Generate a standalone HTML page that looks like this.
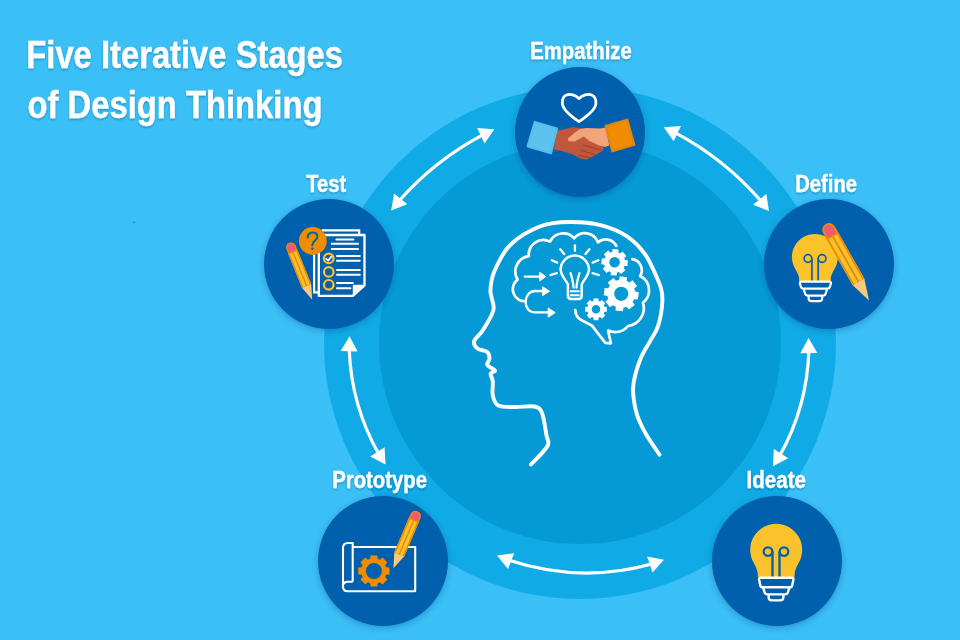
<!DOCTYPE html>
<html><head><meta charset="utf-8">
<style>
html,body{margin:0;padding:0;width:960px;height:640px;overflow:hidden;background:#3AC0F7;}
svg{display:block;font-family:"Liberation Sans",sans-serif;}
</style></head>
<body>
<svg width="960" height="640" viewBox="0 0 960 640">
<defs>
<filter id="ts" x="-20%" y="-30%" width="140%" height="160%">
<feDropShadow dx="0" dy="1.5" stdDeviation="1.2" flood-color="#000" flood-opacity="0.25"/>
</filter>
<filter id="cs" x="-20%" y="-20%" width="140%" height="140%">
<feDropShadow dx="0" dy="2" stdDeviation="3" flood-color="#003060" flood-opacity="0.3"/>
</filter>
</defs>
<rect width="960" height="640" fill="#3AC0F7"/>
<circle cx="580" cy="343" r="256" fill="#10AAE7"/>
<circle cx="580" cy="343" r="201" fill="#059AD6"/>
<path d="M399.40 200.51 A300 300 0 0 1 482.67 134.91" fill="none" stroke="#fff" stroke-width="3.2"/><path d="M391.20 210.60 L394.07 193.60 L407.26 204.33Z" fill="#fff"/><path d="M494.40 129.30 L484.54 143.44 L477.20 128.11Z" fill="#fff"/>
<path d="M675.52 132.82 A300 300 0 0 1 760.91 200.92" fill="none" stroke="#fff" stroke-width="3.2"/><path d="M663.80 127.20 L681.00 126.02 L673.65 141.35Z" fill="#fff"/><path d="M769.00 211.10 L753.01 204.64 L766.32 194.07Z" fill="#fff"/>
<path d="M808.82 351.10 A229 229 0 0 1 779.96 455.32" fill="none" stroke="#fff" stroke-width="3.2"/><path d="M808.50 338.10 L817.37 352.89 L800.37 353.30Z" fill="#fff"/><path d="M773.00 466.30 L773.85 449.08 L788.21 458.18Z" fill="#fff"/>
<path d="M651.67 563.92 A245 245 0 0 1 509.21 560.34" fill="none" stroke="#fff" stroke-width="3.2"/><path d="M664.00 559.80 L652.47 572.62 L647.08 556.49Z" fill="#fff"/><path d="M497.10 555.60 L514.17 553.15 L507.97 568.98Z" fill="#fff"/>
<path d="M378.50 453.55 A229 229 0 0 1 349.22 349.20" fill="none" stroke="#fff" stroke-width="3.2"/><path d="M385.50 464.50 L370.26 456.44 L384.58 447.28Z" fill="#fff"/><path d="M349.50 336.20 L357.67 351.38 L340.68 351.01Z" fill="#fff"/>
<path d="M531.0 464.5 C533.8 461.4 544.9 450.9 547.5 446.0 C550.1 441.1 547.3 440.5 546.4 435.0 C545.5 429.5 544.0 417.8 542.0 413.0 C540.0 408.2 538.8 407.5 534.3 406.5 C529.8 405.5 520.7 407.2 514.7 407.0 C508.7 406.8 502.0 407.3 498.3 405.4 C494.6 403.5 493.7 399.6 492.8 395.6 C491.9 391.6 493.2 385.0 492.8 381.4 C492.4 377.8 490.2 375.5 490.6 373.7 C491.0 371.9 495.6 371.9 495.0 370.5 C494.4 369.1 488.2 367.0 487.3 365.0 C486.4 363.0 489.5 360.6 489.5 358.4 C489.5 356.2 489.3 353.5 487.3 351.9 C485.3 350.3 479.7 350.4 477.5 348.6 C475.3 346.8 473.3 344.0 474.2 340.9 C475.1 337.8 479.8 335.2 483.0 330.0 C486.2 324.8 492.3 316.0 493.5 309.5 C494.7 303.0 490.2 297.4 490.4 291.0 C490.6 284.6 491.1 278.8 494.5 271.0 C497.9 263.2 502.9 252.0 510.7 244.5 C518.5 237.0 531.1 229.8 541.0 226.0 C550.9 222.2 560.1 222.1 570.0 222.0 C579.9 221.9 591.1 222.8 600.6 225.2 C610.1 227.6 619.5 231.5 627.0 236.4 C634.5 241.3 640.2 247.6 645.3 254.7 C650.4 261.8 654.7 272.7 657.5 279.0 C660.3 285.3 661.2 287.8 661.9 292.5 C662.6 297.2 662.6 301.7 661.9 307.5 C661.2 313.3 659.5 321.9 657.5 327.5 C655.5 333.1 652.9 335.9 650.0 341.3 C647.1 346.7 642.8 352.4 640.0 360.0 C637.2 367.6 633.8 378.0 633.2 386.8 C632.6 395.6 634.5 405.4 636.5 413.0 C638.5 420.6 641.4 425.8 645.2 432.7 C649.0 439.6 657.1 451.0 659.5 454.6" fill="none" stroke="#fff" stroke-width="3.9" stroke-linecap="round" stroke-linejoin="round"/>
<path d="M525.50 301.20 A11.97 11.97 0 0 1 517.60 279.70 A15.67 15.67 0 0 1 528.75 256.10 A14.78 14.78 0 0 1 550.00 241.60 A14.73 14.73 0 0 1 574.20 238.25 A13.84 13.84 0 0 1 597.90 242.40 A11.92 11.92 0 0 1 616.25 245.75" fill="none" stroke="#fff" stroke-width="2.7" stroke-linecap="round" stroke-linejoin="round"/>
<path d="M632.30 259.10 A11.16 11.16 0 0 1 640.10 276.00 A15.76 15.76 0 0 1 642.90 302.70 A17.90 17.90 0 0 1 628.10 326.00 A16.79 16.79 0 0 1 608.10 330.60 L610.90 343.30 L605.30 342.80 L592.20 325.90 C588 322.5 582.5 322 578.5 318 C576 315.5 575.3 312.5 575.3 310" fill="none" stroke="#fff" stroke-width="2.7" stroke-linecap="round" stroke-linejoin="round"/>
<path d="M524.7 276.6 H542" stroke="#fff" stroke-width="2.3" stroke-linecap="round"/>
<path d="M545.8 276.6 L539.7 272.3 V281 Z" fill="#fff" stroke="#fff" stroke-width="1" stroke-linejoin="round"/>
<path d="M546 291 H535 C523 291 522 312.4 535 312.4 H551" fill="none" stroke="#fff" stroke-width="2.3" stroke-linecap="round"/>
<path d="M549.6 291.2 L542.5 286.8 V295.6 Z" fill="#fff" stroke="#fff" stroke-width="1" stroke-linejoin="round"/>
<path d="M555.2 312.6 L548.2 308 V317.2 Z" fill="#fff" stroke="#fff" stroke-width="1" stroke-linejoin="round"/>
<path d="M567.9 287 V284.4 C566 280 561.5 276.5 560.6 269.8 A14.2 14.2 0 0 1 589 269.8 C588.1 276.5 583.6 280 581.7 284.4 V287 V295.8 Q581.7 299 578.5 299 H571.1 Q567.9 299 567.9 295.8 Z" fill="none" stroke="#fff" stroke-width="2.5" stroke-linejoin="round"/>
<path d="M570 291.3 H579.6 M570 295.2 H579.6" stroke="#fff" stroke-width="1.9"/>
<path d="M570.6 273.2 C572 278 573.2 282 573.5 287.5 M579.4 273.2 C578 278 576.8 282 576.5 287.5" fill="none" stroke="#fff" stroke-width="2.3" stroke-linecap="round"/>
<line x1="574.9" y1="245.3" x2="574.9" y2="250.8" stroke="#fff" stroke-width="2.3" stroke-linecap="round"/>
<line x1="560.3" y1="249.2" x2="564.2" y2="254" stroke="#fff" stroke-width="2.3" stroke-linecap="round"/>
<line x1="589.4" y1="249.2" x2="585.5" y2="254" stroke="#fff" stroke-width="2.3" stroke-linecap="round"/>
<line x1="551.8" y1="260.2" x2="557.2" y2="262.6" stroke="#fff" stroke-width="2.3" stroke-linecap="round"/>
<line x1="592.6" y1="262.6" x2="598.4" y2="260.2" stroke="#fff" stroke-width="2.3" stroke-linecap="round"/>
<line x1="550.5" y1="275" x2="556.8" y2="273.2" stroke="#fff" stroke-width="2.3" stroke-linecap="round"/>
<line x1="592.6" y1="273.2" x2="598.8" y2="275" stroke="#fff" stroke-width="2.3" stroke-linecap="round"/>
<path d="M612.22 251.97 L612.62 249.05 L618.41 249.45 L618.40 252.40 A10.60 10.60 0 0 1 620.22 253.31 L622.57 251.53 L626.38 255.91 L624.28 257.99 A10.60 10.60 0 0 1 624.93 259.92 L627.85 260.32 L627.45 266.11 L624.50 266.10 A10.60 10.60 0 0 1 623.59 267.92 L625.37 270.27 L620.99 274.08 L618.91 271.98 A10.60 10.60 0 0 1 616.98 272.63 L616.58 275.55 L610.79 275.15 L610.80 272.20 A10.60 10.60 0 0 1 608.98 271.29 L606.63 273.07 L602.82 268.69 L604.92 266.61 A10.60 10.60 0 0 1 604.27 264.68 L601.35 264.28 L601.75 258.49 L604.70 258.50 A10.60 10.60 0 0 1 605.61 256.68 L603.83 254.33 L608.21 250.52 L610.29 252.62 A10.60 10.60 0 0 1 612.22 251.97 Z M609.30 262.30 a5.30 5.30 0 1 0 10.60 0 a5.30 5.30 0 1 0 -10.60 0Z" fill="#fff" fill-rule="evenodd"/>
<path d="M619.06 279.97 L619.72 276.27 L626.98 277.16 L626.72 280.91 A14.00 14.00 0 0 1 629.48 282.47 L632.56 280.32 L637.07 286.08 L634.23 288.56 A14.00 14.00 0 0 1 635.08 291.61 L638.78 292.27 L637.89 299.53 L634.14 299.27 A14.00 14.00 0 0 1 632.58 302.03 L634.73 305.11 L628.97 309.62 L626.49 306.78 A14.00 14.00 0 0 1 623.44 307.63 L622.78 311.33 L615.52 310.44 L615.78 306.69 A14.00 14.00 0 0 1 613.02 305.13 L609.94 307.28 L605.43 301.52 L608.27 299.04 A14.00 14.00 0 0 1 607.42 295.99 L603.72 295.33 L604.61 288.07 L608.36 288.33 A14.00 14.00 0 0 1 609.92 285.57 L607.77 282.49 L613.53 277.98 L616.01 280.82 A14.00 14.00 0 0 1 619.06 279.97 Z M614.15 293.80 a7.10 7.10 0 1 0 14.20 0 a7.10 7.10 0 1 0 -14.20 0Z" fill="#fff" fill-rule="evenodd"/>
<path d="M593.43 300.88 L593.60 298.46 L598.40 298.46 L598.57 300.88 A8.80 8.80 0 0 1 600.13 301.53 L601.96 299.94 L605.36 303.34 L603.77 305.17 A8.80 8.80 0 0 1 604.42 306.73 L606.84 306.90 L606.84 311.70 L604.42 311.87 A8.80 8.80 0 0 1 603.77 313.43 L605.36 315.26 L601.96 318.66 L600.13 317.07 A8.80 8.80 0 0 1 598.57 317.72 L598.40 320.14 L593.60 320.14 L593.43 317.72 A8.80 8.80 0 0 1 591.87 317.07 L590.04 318.66 L586.64 315.26 L588.23 313.43 A8.80 8.80 0 0 1 587.58 311.87 L585.16 311.70 L585.16 306.90 L587.58 306.73 A8.80 8.80 0 0 1 588.23 305.17 L586.64 303.34 L590.04 299.94 L591.87 301.53 A8.80 8.80 0 0 1 593.43 300.88 Z M591.70 309.30 a4.30 4.30 0 1 0 8.60 0 a4.30 4.30 0 1 0 -8.60 0Z" fill="#fff" fill-rule="evenodd"/>
<ellipse cx="134.2" cy="222.3" rx="1.1" ry="0.8" fill="#1F6FA8" opacity="0.75"/>
<g fill="#fff" stroke="#fff" stroke-width="0.4" font-weight="bold" filter="url(#ts)"><text x="26.30" y="68.00" font-size="38" textLength="316.75" lengthAdjust="spacingAndGlyphs">Five Iterative Stages</text><text x="27.50" y="118.00" font-size="38" textLength="295.00" lengthAdjust="spacingAndGlyphs">of Design Thinking</text></g>
<circle cx="580" cy="132" r="65" fill="#0461AD" filter="url(#cs)"/>
<circle cx="829" cy="264" r="65" fill="#0461AD" filter="url(#cs)"/>
<circle cx="777" cy="561" r="65" fill="#0461AD" filter="url(#cs)"/>
<circle cx="383" cy="561" r="65" fill="#0461AD" filter="url(#cs)"/>
<circle cx="329" cy="264" r="65" fill="#0461AD" filter="url(#cs)"/>
<g fill="#fff" stroke="#fff" stroke-width="0.35" font-weight="bold" filter="url(#ts)"><text x="530.25" y="58.75" font-size="23" textLength="101.50" lengthAdjust="spacingAndGlyphs">Empathize</text><text x="306.25" y="191.90" font-size="23" textLength="40.00" lengthAdjust="spacingAndGlyphs">Test</text><text x="795.25" y="191.80" font-size="23" textLength="61.75" lengthAdjust="spacingAndGlyphs">Define</text><text x="746.50" y="487.50" font-size="23" textLength="59.50" lengthAdjust="spacingAndGlyphs">Ideate</text><text x="332.25" y="487.50" font-size="23" textLength="94.75" lengthAdjust="spacingAndGlyphs">Prototype</text></g>
<path d="M579 98.6 C575.5 94.6 570 93.6 566.4 95 C563 96.4 562.1 100.2 562.4 103.6 C562.9 110 571.2 116.4 579 121.6 C586.8 116.4 595.4 110 595.9 103.6 C596.1 100.2 595.2 96.4 591.7 95 C588.1 93.6 582.5 94.6 579 98.6Z" fill="none" stroke="#fff" stroke-width="2.8" stroke-linejoin="round"/>
<path d="M557 130.6 L564.1 129.2 L573.2 127 L579.6 128.1 L583 130 L603.5 147.5 L603.2 150.5 L593.7 155.9 L586.6 159.4 L581 158.7 L571.1 153.8 L561.3 151 L553.9 149.6 Z" fill="#C0573A"/>
<path d="M580.3 128.8 L586.6 128.1 L599.3 128.5 L606 127.7 L609.2 145.4 L604.9 147.1 L599.3 145.4 L589.4 141.1 L583.8 136.5 L574.6 141.5 L569.5 141.3 C567.5 140.5 567.5 138.5 569 137.5 L574.6 132.7 Z" fill="#F4A47B"/>
<path d="M583.1 145 L601.4 150.3 M580.3 150.3 L595.1 154.5 M578.2 155.2 L590.8 158" stroke="#8E3B28" stroke-width="0.8"/>
<path d="M534.8 122 L557 128.6 L551 153.2 L527.6 146.4 Z" fill="#5BC3EE" stroke="#58BDE9" stroke-width="2.2" stroke-linejoin="round"/>
<path d="M605.6 126.2 L627.2 119.8 L634.2 144.5 L612.4 151.2 Z" fill="#EF8C00" stroke="#E5860A" stroke-width="2.4" stroke-linejoin="round"/>
<path d="M799.10 281.00 V279.00 C799.10 275.50 797.51 272.78 794.98 268.40 A23 23 0 1 1 834.82 268.40 C832.29 272.78 830.70 275.50 830.70 279.00 V281.00 Z" fill="#FCC22B"/>
<g fill="none" stroke="#0461AD" stroke-width="1.7"><circle cx="808.0" cy="258.5" r="3.9"/><circle cx="822.1" cy="258.5" r="3.9"/><path d="M811.9 258.5 V281 M818.2 258.5 V281"/></g>
<path d="M801.5 281.6 H829.3 Q831.3 281.6 830.9 283.6 L830 286.4 Q829.5 288.6 827.3 288.6 H803.5 Q801.3 288.6 800.8 286.4 L799.9 283.6 Q799.5 281.6 801.5 281.6Z M803.5 288.6 L805 293.2 Q805.6 295.6 808 295.6 H822.8 Q825.2 295.6 825.8 293.2 L827.3 288.6 M808.6 295.6 V298.2 Q808.6 301.2 811.6 301.2 H819.2 Q822.2 301.2 822.2 298.2 V295.6" fill="none" stroke="#fff" stroke-width="2.2" stroke-linejoin="round"/>
<g transform="translate(825.67 223.91) rotate(-29.50)"><path d="M-6.75 66.50 L6.75 66.50 L0 88.00Z" fill="#FCC87E"/><rect x="-6.75" y="14.00" width="13.50" height="52.50" fill="#FCC22B"/><path d="M-5.80 66.50 V14.00 M5.80 66.50 V14.00" stroke="#E98A0B" stroke-width="1.90"/><line x1="0" y1="14.00" x2="0" y2="66.50" stroke="#E98A0B" stroke-width="1.90"/><path d="M-5.80 14.00 V6.75 A5.80 5.80 0 0 1 5.80 6.75 V14.00Z" fill="#EF5B73" stroke="#E98A0B" stroke-width="1.90"/></g>
<path d="M757.80 577.00 V575.00 C757.80 571.50 756.54 567.75 753.68 562.80 A26 26 0 1 1 798.72 562.80 C795.86 567.75 794.60 571.50 794.60 575.00 V577.00 Z" fill="#FCC22B"/>
<g fill="none" stroke="#0461AD" stroke-width="2.3"><circle cx="768.0" cy="551.6" r="4.3"/><circle cx="784.0" cy="551.6" r="4.3"/><path d="M772.5 551.6 V577 M779.5 551.6 V577"/></g>
<path d="M760.3 577.8 H792.2 Q793.6 577.8 793.4 579.5 L792.3 585 Q792 587.3 789.7 587.3 H762.8 Q760.5 587.3 760.2 585 L759.1 579.5 Q758.9 577.8 760.3 577.8Z M763 587.3 L764.5 592 Q765.2 594.4 767.5 594.4 H785 Q787.3 594.4 788 592 L789.5 587.3 M768.6 594.4 V597 Q768.6 600.4 772 600.4 H780 Q783.4 600.4 783.4 597 V594.4" fill="none" stroke="#fff" stroke-width="2.4" stroke-linejoin="round"/>
<path d="M352.7 581.7 V543 H348 Q343 543 343 548 V586.5 Q343 591.3 348 591.3 H415.2 V547 H352.7 M352.7 581.7 H348 Q343 581.7 343 586.5" fill="none" stroke="#fff" stroke-width="2.1" stroke-linejoin="round"/>
<path d="M370.16 558.76 L370.44 555.38 L377.36 555.38 L377.64 558.76 A12.80 12.80 0 0 1 379.91 559.70 L382.50 557.51 L387.39 562.40 L385.20 564.99 A12.80 12.80 0 0 1 386.14 567.26 L389.52 567.54 L389.52 574.46 L386.14 574.74 A12.80 12.80 0 0 1 385.20 577.01 L387.39 579.60 L382.50 584.49 L379.91 582.30 A12.80 12.80 0 0 1 377.64 583.24 L377.36 586.62 L370.44 586.62 L370.16 583.24 A12.80 12.80 0 0 1 367.89 582.30 L365.30 584.49 L360.41 579.60 L362.60 577.01 A12.80 12.80 0 0 1 361.66 574.74 L358.28 574.46 L358.28 567.54 L361.66 567.26 A12.80 12.80 0 0 1 362.60 564.99 L360.41 562.40 L365.30 557.51 L367.89 559.70 A12.80 12.80 0 0 1 370.16 558.76 Z M365.90 571.00 a8.00 8.00 0 1 0 16.00 0 a8.00 8.00 0 1 0 -16.00 0Z" fill="#EF8C00" fill-rule="evenodd"/>
<g transform="translate(417.63 511.13) rotate(23.00)"><path d="M-5.40 46.85 L5.40 46.85 L0 62.00Z" fill="#FCC87E"/><rect x="-5.40" y="9.86" width="10.80" height="36.99" fill="#FCC22B"/><path d="M-4.64 46.85 V9.86 M4.64 46.85 V9.86" stroke="#E98A0B" stroke-width="1.52"/><line x1="0" y1="9.86" x2="0" y2="46.85" stroke="#E98A0B" stroke-width="1.52"/><path d="M-4.64 9.86 V5.40 A4.64 4.64 0 0 1 4.64 5.40 V9.86Z" fill="#EF5B73" stroke="#E98A0B" stroke-width="1.52"/></g>
<path d="M321.7 230.3 H359.2 V234.5 M314.1 254.3 V292.4 H318.8" fill="none" stroke="#fff" stroke-width="2.2"/>
<path d="M318.8 235 H364.5 V285.4 L352.8 295.9 H318.8 Z" fill="#0461AD" stroke="#fff" stroke-width="2.3" stroke-linejoin="round"/>
<path d="M353.4 285.4 H364.5 L353.4 295.9 Z" fill="#fff" stroke="#fff" stroke-width="1.2" stroke-linejoin="round"/>
<line x1="336.4" y1="239.6" x2="353.4" y2="239.6" stroke="#fff" stroke-width="2" stroke-linecap="round"/>
<line x1="331.7" y1="243.75" x2="358" y2="243.75" stroke="#fff" stroke-width="2" stroke-linecap="round"/>
<line x1="331.7" y1="249" x2="358" y2="249" stroke="#fff" stroke-width="2" stroke-linecap="round"/>
<line x1="337" y1="256" x2="359.8" y2="256" stroke="#fff" stroke-width="2" stroke-linecap="round"/>
<line x1="337" y1="260.7" x2="359.8" y2="260.7" stroke="#fff" stroke-width="2" stroke-linecap="round"/>
<line x1="337" y1="270.1" x2="359.8" y2="270.1" stroke="#fff" stroke-width="2" stroke-linecap="round"/>
<line x1="337" y1="274.8" x2="359.8" y2="274.8" stroke="#fff" stroke-width="2" stroke-linecap="round"/>
<line x1="337" y1="283" x2="352.8" y2="283" stroke="#fff" stroke-width="2" stroke-linecap="round"/>
<line x1="337" y1="288.3" x2="350.4" y2="288.3" stroke="#fff" stroke-width="2" stroke-linecap="round"/>
<circle cx="328.75" cy="258.4" r="4.8" fill="none" stroke="#FCC22B" stroke-width="2.2"/>
<circle cx="328.75" cy="271.9" r="4.8" fill="none" stroke="#FCC22B" stroke-width="2.2"/>
<circle cx="328.75" cy="284.8" r="4.8" fill="none" stroke="#FCC22B" stroke-width="2.2"/>
<path d="M326.3 258.8 L328.2 260.6 L331.3 256.6" fill="none" stroke="#fff" stroke-width="1.8" stroke-linecap="round" stroke-linejoin="round"/>
<circle cx="312.8" cy="241" r="13.9" fill="#EF8C00"/>
<path d="M307.7 237.6 C307.3 231 317.6 230.6 317.4 236.8 C317.2 240.6 312.4 240.6 312.3 245.2" fill="none" stroke="#0461AD" stroke-width="2" stroke-linecap="round"/><circle cx="312.3" cy="248.7" r="1.25" fill="#0461AD"/>
<g transform="translate(289.16 242.78) rotate(-22.00)"><path d="M-5.00 46.47 L5.00 46.47 L0 61.50Z" fill="#FCC87E"/><rect x="-5.00" y="9.78" width="10.00" height="36.69" fill="#FCC22B"/><path d="M-4.30 46.47 V9.78 M4.30 46.47 V9.78" stroke="#E98A0B" stroke-width="1.41"/><line x1="0" y1="9.78" x2="0" y2="46.47" stroke="#E98A0B" stroke-width="1.41"/><path d="M-4.30 9.78 V5.00 A4.30 4.30 0 0 1 4.30 5.00 V9.78Z" fill="#EF5B73" stroke="#E98A0B" stroke-width="1.41"/></g>
</svg>
</body></html>
